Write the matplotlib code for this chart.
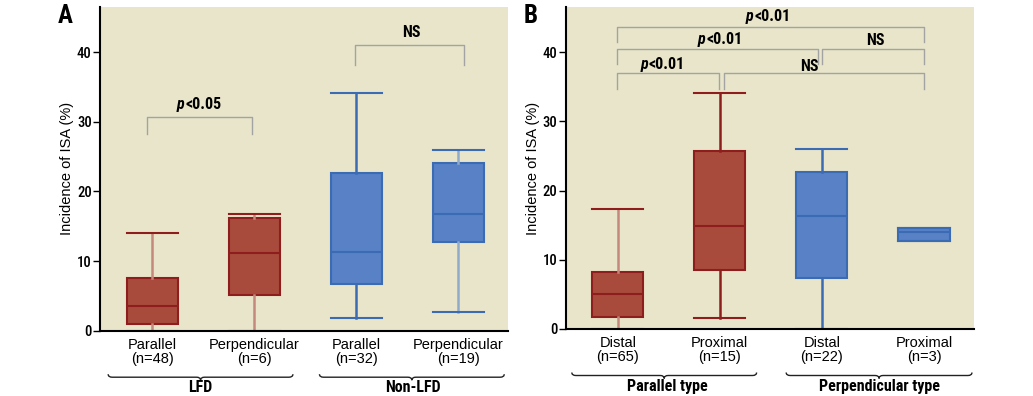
import os
import matplotlib
matplotlib.use("Agg")
import matplotlib.pyplot as plt
from matplotlib import font_manager as fm
from matplotlib.path import Path
from matplotlib.patches import PathPatch
from matplotlib.transforms import blended_transform_factory, offset_copy

# ---------------- data ----------------
a_labels = ["Parallel\n(n=48)", "Perpendicular\n(n=6)", "Parallel\n(n=32)", "Perpendicular\n(n=19)"]
a_groups = ["LFD", "Non-LFD"]
a_whislo = [0.0, 0.0, 1.8, 2.7]
a_q1 = [0.9, 5.1, 6.7, 12.75]
a_med = [3.55, 11.1, 11.3, 16.8]
a_q3 = [7.5, 16.25, 22.7, 24.1]
a_whishi = [14.1, 16.8, 34.1, 25.95]

b_labels = ["Distal\n(n=65)", "Proximal\n(n=15)", "Distal\n(n=22)", "Proximal\n(n=3)"]
b_groups = ["Parallel type", "Perpendicular type"]
b_whislo = [0.0, 1.6, 0.0, 12.7]
b_q1 = [1.7, 8.5, 7.35, 12.7]
b_med = [5.05, 14.9, 16.3, 14.0]
b_q3 = [8.3, 25.7, 22.75, 14.6]
b_whishi = [17.3, 34.15, 26.0, 14.6]

# brackets: (x_left, x_right, top_y, leg_y, label, label_y)
a_brackets = [(0.95, 1.98, 30.7, 28.2, "p<0.05", 32.5),
              (2.99, 4.06, 41.05, 38.1, "NS", 42.8)]
b_brackets = [(0.993, 1.987, 37.0, 34.7, "p<0.01", 38.3),
              (2.04, 4.0, 37.0, 34.7, "NS", 38.0),
              (0.993, 2.96, 40.45, 38.3, "p<0.01", 41.9),
              (3.0, 4.0, 40.45, 38.3, "NS", 41.7),
              (0.993, 4.0, 43.7, 41.5, "p<0.01", 45.1)]
a_label_x = [1.46, 3.54]
b_label_x = [1.44, 2.875, 2.0, 3.52, 2.47]

# ---------------- fonts ----------------
def _w(f):
    w = f.weight
    if isinstance(w, str):
        return {"bold": 700, "heavy": 800, "black": 900, "semibold": 600,
                "demibold": 600, "medium": 500}.get(w.lower(), 400)
    return int(w)


def _is_cond(f):
    s = (f.name + " " + os.path.basename(f.fname)).lower()
    return ("condensed" in s or "narrow" in s or
            str(f.stretch).lower() in ("condensed", "semi-condensed", "extra-condensed",
                                       "ultra-condensed") or
            (isinstance(f.stretch, (int, float)) and f.stretch < 500))


cond_all = [f for f in fm.fontManager.ttflist if _is_cond(f)]
pref = ["Roboto Condensed", "Liberation Sans Narrow", "Open Sans Condensed",
        "DejaVu Sans", "Noto Sans"]
cond_all.sort(key=lambda f: (pref.index(f.name) if f.name in pref else 99, abs(_w(f) - 700)))


def pick(bold, italic):
    for f in cond_all:
        ok_w = (_w(f) >= 600) if bold else (_w(f) < 600 and _w(f) >= 400)
        ok_s = (f.style != "normal") if italic else (f.style == "normal")
        if ok_w and ok_s:
            return fm.FontProperties(fname=f.fname)
    return None


FP_COND_B = pick(True, False)
FP_COND_R = pick(False, False)
FP_COND_BI = pick(True, True)
SHRINK = 1.0
if FP_COND_B is None:
    FP_COND_B = fm.FontProperties(family="DejaVu Sans", weight="bold")
    SHRINK = 0.88
if FP_COND_R is None:
    FP_COND_R = fm.FontProperties(family="DejaVu Sans")
if FP_COND_BI is None:
    FP_COND_BI = FP_COND_B.copy()
    FP_COND_BI.set_style("italic")
REG = ["Liberation Sans", "DejaVu Sans"]


def fp(base, size):
    p = base.copy()
    p.set_size(size)
    return p


# ---------------- style ----------------
BG = "#E9E5CA"
RED_F, RED_E = "#A84B3C", "#8E1E1E"
BLUE_F, BLUE_E = "#5881C6", "#3A6BB3"
RED_W_LIGHT, BLUE_W_LIGHT = "#C4897C", "#8FABC9"
BR = "#A3A3A3"

fig = plt.figure(figsize=(10.33, 3.96), dpi=100)
axA = fig.add_axes([100 / 1033, 65.3 / 396, 408.3 / 1033, 323.7 / 396])
axB = fig.add_axes([565.7 / 1033, 67.0 / 396, 408.3 / 1033, 321.7 / 396])


def make_stats(lo, q1, med, q3, hi):
    return [dict(whislo=lo[i], q1=q1[i], med=med[i], q3=q3[i], whishi=hi[i], fliers=[])
            for i in range(len(med))]


def draw_brace(ax, x0, x1, ypx, ax_h_px, px_per_unit):
    tr = blended_transform_factory(ax.transData, ax.transAxes)
    y = -ypx / ax_h_px
    up = 3.0 / ax_h_px
    dx = 4.0 / px_per_unit
    xc = (x0 + x1) / 2
    verts = [(x0, y + up), (x0, y), (x0 + dx, y),
             (xc - dx, y), (xc, y), (xc, y - up),
             (xc, y), (xc + dx, y),
             (x1 - dx, y), (x1, y), (x1, y + up)]
    codes = [Path.MOVETO, Path.CURVE3, Path.CURVE3,
             Path.LINETO, Path.CURVE3, Path.CURVE3,
             Path.CURVE3, Path.CURVE3,
             Path.LINETO, Path.CURVE3, Path.CURVE3]
    ax.add_patch(PathPatch(Path(verts, codes), transform=tr, fill=False,
                           lw=1.0, ec="#222222", clip_on=False))


def ptext(ax, x, y, lab, size):
    # italic "p" followed by bold "<0.0x", centred as a whole
    if lab.startswith("p"):
        t1 = ax.text(x, y, "p", ha="right", va="center", fontproperties=fp(FP_COND_BI, size))
        t2 = ax.text(x, y, lab[1:], ha="left", va="center", fontproperties=fp(FP_COND_B, size))
        r = fig.canvas.get_renderer()
        w1 = t1.get_window_extent(r).width
        w2 = t2.get_window_extent(r).width
        shift = (w1 - w2) / 2.0
        t1.set_transform(offset_copy(ax.transData, fig=fig, x=shift, y=0, units="dots"))
        t2.set_transform(offset_copy(ax.transData, fig=fig, x=shift + 0.5, y=0, units="dots"))
    else:
        ax.text(x, y, lab, ha="center", va="center", fontproperties=fp(FP_COND_B, size))


def panel(ax, stats, labels, groups, fills, edges, wcolors, brackets, lab_x,
          letter, ax_h_px, brace_spans, group_x):
    ax.set_facecolor(BG)
    pos = [1, 2, 3, 4]
    bp = ax.bxp(stats, positions=pos, widths=0.5, capwidths=0.5,
                patch_artist=True, showfliers=False)
    for i in range(4):
        bp["boxes"][i].set(facecolor=fills[i], edgecolor=edges[i], lw=1.5)
        bp["medians"][i].set(color=edges[i], lw=1.5)
        for w in bp["whiskers"][2 * i:2 * i + 2]:
            w.set(color=wcolors[i], lw=1.8)
        for c in bp["caps"][2 * i:2 * i + 2]:
            c.set(color=edges[i], lw=1.5)
    ax.set_xlim(0.49, 4.49)
    ax.set_ylim(0, 46.5)
    ax.set_yticks([0, 10, 20, 30, 40])
    ax.set_xticks(pos)
    ax.set_xticklabels(labels, fontsize=10.5, family=REG, linespacing=1.05)
    for t in ax.get_yticklabels():
        t.set_fontproperties(fp(FP_COND_R, 10.5 * SHRINK))
    ax.tick_params(axis="x", length=0, pad=5)
    ax.tick_params(axis="y", length=5, width=1, pad=1)
    for s in ["top", "right"]:
        ax.spines[s].set_visible(False)
    for s in ["left", "bottom"]:
        ax.spines[s].set_linewidth(1.5)
    ax.set_ylabel("Incidence of ISA (%)", fontsize=10.5, family=REG, labelpad=2)
    for (xl, xr, top, leg, lab, ly), lx in zip(brackets, lab_x):
        ax.plot([xl, xl, xr, xr], [leg, top, top, leg], color=BR, lw=1.0)
        ptext(ax, lx, ly, lab, 11.5 * SHRINK)
    for (x0, x1) in brace_spans:
        draw_brace(ax, x0, x1, 46.5, ax_h_px, 102.0)
    tr = blended_transform_factory(ax.transData, ax.transAxes)
    for gx, g in zip(group_x, groups):
        ax.text(gx, -57.0 / ax_h_px, g, transform=tr, ha="center", va="center",
                fontproperties=fp(FP_COND_B, 11.5 * SHRINK))
    ax.text(-0.085, 0.972, letter, transform=ax.transAxes, ha="center", va="center",
            fontproperties=fp(FP_COND_B, 18 * SHRINK))


statsA = make_stats(a_whislo, a_q1, a_med, a_q3, a_whishi)
statsB = make_stats(b_whislo, b_q1, b_med, b_q3, b_whishi)

panel(axA, statsA, a_labels, a_groups,
      [RED_F, RED_F, BLUE_F, BLUE_F], [RED_E, RED_E, BLUE_E, BLUE_E],
      [RED_W_LIGHT, RED_W_LIGHT, BLUE_E, BLUE_W_LIGHT],
      a_brackets, a_label_x, "A", 323.7,
      [(0.57, 2.38), (2.64, 4.45)], [1.47, 3.56])
panel(axB, statsB, b_labels, b_groups,
      [RED_F, RED_F, BLUE_F, BLUE_F], [RED_E, RED_E, BLUE_E, BLUE_E],
      [RED_W_LIGHT, RED_E, BLUE_E, BLUE_E],
      b_brackets, b_label_x, "B", 321.7,
      [(0.55, 2.36), (2.65, 4.47)], [1.49, 3.56])

fig.savefig("out.png", dpi=100)
